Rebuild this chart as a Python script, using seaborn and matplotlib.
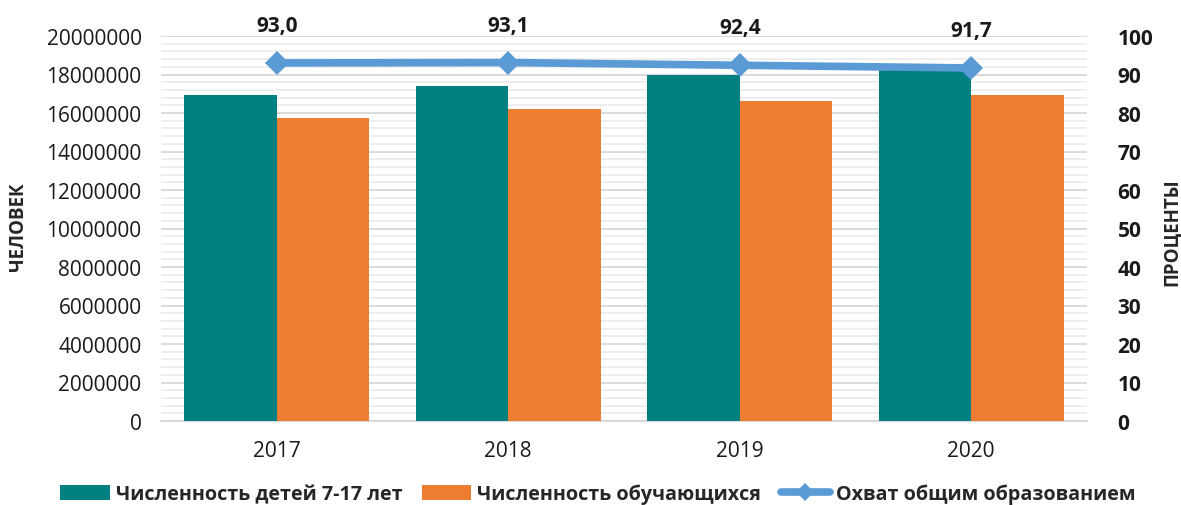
import numpy as np
import pandas as pd
import matplotlib
matplotlib.use("Agg")
import matplotlib.pyplot as plt
import seaborn as sns
from matplotlib.patches import Patch
from matplotlib.lines import Line2D
from matplotlib.ticker import MultipleLocator

years = ["2017", "2018", "2019", "2020"]
children = [16940000, 17390000, 17990000, 18250000]
students = [15760000, 16210000, 16620000, 16940000]
coverage = [93.0, 93.1, 92.4, 91.7]
coverage_labels = ["93,0", "93,1", "92,4", "91,7"]

s1 = "Численность детей 7-17 лет"
s2 = "Численность обучающихся"
s3 = "Охват общим образованием"

TEAL = "#008080"
ORANGE = "#ED7D31"
BLUE = "#5B9BD5"

sns.set_theme(style="white")
plt.rcParams["font.family"] = ["Open Sans", "DejaVu Sans"]

df = pd.DataFrame({
    "year": years * 2,
    "value": children + students,
    "series": [s1] * 4 + [s2] * 4,
})

fig = plt.figure(figsize=(11.81, 5.06), dpi=100)
ax = fig.add_axes([161 / 1181, 1 - 422 / 506, (1087 - 161) / 1181, (422 - 37) / 506])

sns.barplot(data=df, x="year", y="value", hue="series", ax=ax,
            palette=[TEAL, ORANGE], width=0.8, saturation=1,
            linewidth=0, legend=False, zorder=3)

ax.set_ylim(0, 20000000)
ax.yaxis.set_major_locator(MultipleLocator(2000000))
ax.yaxis.set_minor_locator(MultipleLocator(400000))
ax.grid(True, which="minor", axis="y", color="#E9E9E9", linewidth=1.1, zorder=0)
ax.grid(True, which="major", axis="y", color="#D4D4D4", linewidth=1.2, zorder=0)
ax.set_axisbelow(True)
ax.set_xlim(-0.5, 3.5)
for sp in ["top", "right", "left"]:
    ax.spines[sp].set_visible(False)
ax.spines["bottom"].set_color("#D4D4D4")
ax.spines["bottom"].set_linewidth(1.2)
ax.tick_params(axis="both", which="both", length=0, labelsize=15, colors="#1a1a1a")
ax.tick_params(axis="y", pad=14)
ax.tick_params(axis="x", pad=14)
ax.yaxis.set_major_formatter(matplotlib.ticker.FuncFormatter(lambda v, p: f"{int(v)}"))
ax.set_xlabel("")
ax.set_ylabel("")
fig.text(18 / 1181, 1 - 227 / 506, "ЧЕЛОВЕК", rotation=90, ha="center", va="center",
         fontsize=13.5, fontweight="bold")

ax2 = ax.twinx()
ax2.set_position(ax.get_position())
xs = np.arange(len(years))
sns.lineplot(x=xs, y=coverage, ax=ax2, color=BLUE, linewidth=5.5, marker="D",
             markersize=12, markeredgewidth=0, sort=False, zorder=5)
ax2.set_ylim(0, 100)
ax2.set_xlim(-0.5, 3.5)
ax2.yaxis.set_major_locator(MultipleLocator(10))
for sp in ax2.spines.values():
    sp.set_visible(False)
ax2.tick_params(axis="y", length=0, labelsize=15, pad=22, colors="#1a1a1a")
for lab in ax2.get_yticklabels():
    lab.set_fontweight("bold")
ax2.set_ylabel("")
fig.text(1172 / 1181, 1 - 232 / 506, "ПРОЦЕНТЫ", rotation=90, ha="center", va="center",
         fontsize=13.5, fontweight="bold")

for x, v, t in zip(xs, coverage, coverage_labels):
    ax2.annotate(t, (x, v), xytext=(0, 27), textcoords="offset points",
                 ha="center", va="center", fontsize=15, fontweight="bold", color="#1a1a1a")

handles = [
    Patch(facecolor=TEAL, edgecolor="none"),
    Patch(facecolor=ORANGE, edgecolor="none"),
    Line2D([0], [0], color=BLUE, linewidth=5.5, marker="D", markersize=9, markeredgewidth=0),
]
leg = fig.legend(handles, [s1, s2, s3], loc="center", bbox_to_anchor=(598 / 1181, 1 - 495 / 506),
                 ncol=3, frameon=False, handlelength=2.5, handleheight=0.76,
                 handletextpad=0.3, columnspacing=1.0,
                 prop={"size": 14.2, "weight": "bold"})

fig.savefig("out.png", dpi=100)
